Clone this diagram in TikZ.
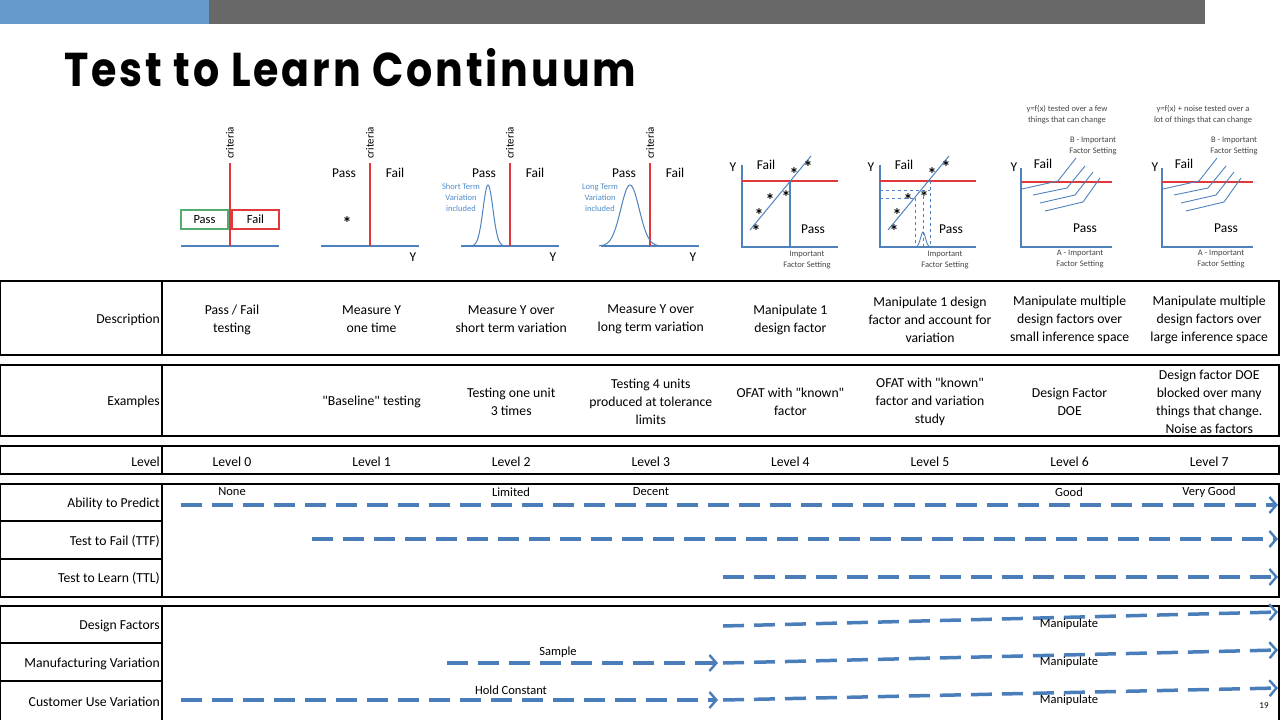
\documentclass[tikz,border=0pt]{standalone}
\usepackage{graphicx}
\usepackage{fontspec}
\setmainfont{Carlito}[Ligatures=TeXOff]
\newfontfamily\titlefont{Poppins}[LetterSpace=7]
\usetikzlibrary{arrows.meta}
\definecolor{barblue}{RGB}{102,153,204}
\definecolor{bargray}{RGB}{104,104,104}
\definecolor{axisblue}{RGB}{79,129,189}
\definecolor{critred}{RGB}{226,56,60}
\definecolor{passgreen}{RGB}{84,172,112}
\definecolor{noteblue}{RGB}{79,140,200}
\definecolor{flowblue}{RGB}{74,126,187}
\definecolor{notegray}{RGB}{70,70,70}
\tikzset{
  axisline/.style={draw=axisblue,line width=1.2pt},
  critline/.style={draw=critred,line width=1.4pt},
  frame/.style={draw=black,line width=1.2pt},
  cell/.style={align=center,inner sep=0pt,yshift=-1.5pt,font=\fontsize{13.7}{18}\selectfont},
  rowlabel/.style={anchor=east,inner sep=0pt,yshift=-1.5pt,font=\fontsize{13.7}{18}\selectfont},
  tag/.style={inner sep=0pt,font=\fontsize{12.5}{14}\selectfont},
  big/.style={inner sep=0pt,font=\fontsize{13.5}{15}\selectfont},
  critlabel/.style={rotate=90,anchor=west,inner sep=0pt,font=\fontsize{11}{12}\selectfont},
  note/.style={align=center,inner sep=0pt,text=noteblue,font=\fontsize{8.5}{11}\selectfont},
  tiny/.style={align=center,inner sep=0pt,text=notegray,font=\fontsize{8.5}{11}\selectfont},
  star/.style={inner sep=0pt,font=\fontsize{18}{18}\selectfont\bfseries},
  flow/.style={draw=flowblue,line width=3.5pt,dash pattern=on 21pt off 10pt,
    -{Straight Barb[length=7pt,width=16pt,line width=2.4pt]}},
}
\begin{document}
\begin{tikzpicture}[x=1pt,y=-1pt]
\useasboundingbox (0,0) rectangle (1280,720);
\fill[barblue] (0,0) rectangle (209,24);
\fill[bargray] (209,0) rectangle (1205,24);
\node[anchor=base west,inner sep=0pt] (title) at (64,86)
  {\resizebox{572pt}{38pt}{\titlefont\bfseries Test to Learn Continuum}};

% pass/fail criteria panels
\foreach \o/\n in {0/0,140/1,280/2,420/3}{
  \draw[axisline] (181+\o,246) -- (279+\o,246);
  \draw[critline] (230+\o,163) -- (230+\o,246);
  \node[critlabel] (crit\n) at (230+\o,159) {criteria};
}
\node[draw=passgreen,line width=1.2pt,minimum width=47pt,minimum height=19pt,tag] (pbox) at (204.5,219.5) {Pass};
\node[draw=critred,line width=1.2pt,minimum width=47pt,minimum height=19pt,tag] (fbox) at (255.5,219.5) {Fail};
\foreach \o/\n in {140/1,280/2,420/3}{
  \node[big] (pass\n) at (204+\o,173) {Pass};
  \node[big] (fail\n) at (255+\o,173) {Fail};
  \node[big] (y\n) at (273+\o,257) {Y};
}
\node[star] (one) at (347,223) {*};
\draw[axisblue,line width=1pt,domain=-18:18,samples=50] plot ({488+\x},{246-61*exp(-(\x/7)*(\x/7))});
\draw[axisblue,line width=1pt,domain=-31:31,samples=60] plot ({630+\x},{246-61*exp(-(\x/13)*(\x/13))});
\node[note] (shortv) at (461,198) {Short Term\\Variation\\included};
\node[note] (longv) at (600,198) {Long Term\\Variation\\included};

% one factor panels
\foreach \o/\n in {0/4,138/5}{
  \draw[axisline] (742+\o,165) -- (742+\o,247) -- (838+\o,247);
  \draw[critline] (742+\o,181) -- (838+\o,181);
  \draw[axisblue,line width=1pt] (750+\o,230) -- (811+\o,156);
  \foreach \sx/\sy [count=\k] in {756/228,759/212,770/197,786/194,794/171,808/164}
    \node[star] (s\n\k) at (\sx+\o,\sy+3) {*};
  \node[big] (y\n) at (733+\o,167) {Y};
  \node[big] (fail\n) at (766+\o,165) {Fail};
  \node[big] (pass\n) at (813+\o,229) {Pass};
  \node[tiny] (imp\n) at (807+\o,260) {Important\\Factor Setting};
}
\draw[axisline] (790,181) -- (790,247);
\draw[axisblue,line width=0.9pt,dashed] (880,190) -- (930,190) (880,198) -- (915,198)
  (915,198) -- (915,247) (923,190) -- (923,247) (930,181) -- (930,247);
\draw[axisblue,line width=0.9pt] (916,247) .. controls (920,246) and (921,232) .. (923,232)
  .. controls (925,232) and (926,246) .. (930,247);

% many factor panels
\foreach \o/\n in {0/6,141/7}{
  \draw[axisline] (1021+\o,168) -- (1021+\o,247) -- (1112+\o,247);
  \draw[critline] (1021+\o,182) -- (1112+\o,182);
  \draw[axisblue,line width=0.9pt] (1022+\o,189) -- (1058+\o,181) -- (1076+\o,158)
    (1033+\o,195) -- (1067+\o,188) -- (1085+\o,166)
    (1040+\o,203) -- (1075+\o,195) -- (1093+\o,172)
    (1045+\o,211) -- (1083+\o,202) -- (1100+\o,178);
  \node[big] (y\n) at (1014+\o,167) {Y};
  \node[big] (fail\n) at (1043+\o,164) {Fail};
  \node[big] (pass\n) at (1085+\o,228) {Pass};
  \node[tiny] (bimp\n) at (1093+\o,146) {B - Important\\Factor Setting};
  \node[tiny] (aimp\n) at (1080+\o,259) {A - Important\\Factor Setting};
}
\node[tiny] (few) at (1067,115) {y=f(x) tested over a few\\things that can change};
\node[tiny] (lot) at (1203,115) {y=f(x) + noise tested over a\\lot of things that can change};

% table
\draw[frame] (0,281) rectangle (1279,355) (162,281) -- (162,355);
\draw[frame] (0,365) rectangle (1279,436) (162,365) -- (162,436);
\draw[frame] (0,446) rectangle (1279,474) (162,446) -- (162,474);
\draw[frame] (0,484) rectangle (1279,597) (162,484) -- (162,597) (0,521) -- (162,521) (0,559) -- (162,559);
\draw[frame] (0,725) -- (0,606) -- (1279,606) -- (1279,725) (162,606) -- (162,725) (0,643) -- (162,643) (0,681) -- (162,681);

\node[rowlabel] (ldesc) at (160,318) {Description};
\node[rowlabel] (lex) at (160,400) {Examples};
\node[rowlabel] (llvl) at (160,460) {Level};
\node[rowlabel] (lpred) at (160,502) {Ability to Predict};
\node[rowlabel] (lttf) at (160,540) {Test to Fail (TTF)};
\node[rowlabel] (lttl) at (160,577) {Test to Learn (TTL)};
\node[rowlabel] (ldf) at (160,624) {Design Factors};
\node[rowlabel] (lmv) at (160,662) {Manufacturing Variation};
\node[rowlabel] (lcu) at (160,700) {Customer Use Variation};

\foreach \t [count=\i from 0] in {{Pass / Fail\\testing},{Measure Y\\one time},
    {Measure Y over\\short term variation},{Measure Y over\\long term variation},
    {Manipulate 1\\design factor},{Manipulate 1 design\\factor and account for\\variation},
    {Manipulate multiple\\design factors over\\small inference space},
    {Manipulate multiple\\design factors over\\large inference space}}
  \node[cell] (desc\i) at (232+139.6*\i,318) {\t};
\foreach \t [count=\i from 1] in {{"Baseline" testing},{Testing one unit\\3 times},
    {Testing 4 units\\produced at tolerance\\limits},{OFAT with "known"\\factor},
    {OFAT with "known"\\factor and variation\\study},{Design Factor\\DOE},
    {Design factor DOE\\blocked over many\\things that change.\\Noise as factors}}
  \node[cell] (ex\i) at (232+139.6*\i,400) {\t};
\foreach \i in {0,...,7}
  \node[cell] (lvl\i) at (232+139.6*\i,460) {Level \i};

% arrows
\coordinate (ap0) at (181,505); \coordinate (ap1) at (1278,505);
\coordinate (tf0) at (312,539); \coordinate (tf1) at (1278,539);
\coordinate (tl0) at (723,577); \coordinate (tl1) at (1278,577);
\coordinate (df0) at (723,626); \coordinate (df1) at (1278,612);
\coordinate (mv0) at (447,663); \coordinate (mv1) at (718,663);
\coordinate (mv2) at (723,663); \coordinate (mv3) at (1278,650);
\coordinate (cu0) at (181,700); \coordinate (cu1) at (718,700);
\coordinate (cu2) at (723,700); \coordinate (cu3) at (1278,688);
\draw[flow] (ap0) -- (ap1);
\draw[flow] (tf0) -- (tf1);
\draw[flow] (tl0) -- (tl1);
\draw[flow] (df0) -- (df1);
\draw[flow] (mv0) -- (mv1);
\draw[flow] (mv2) -- (mv3);
\draw[flow] (cu0) -- (cu1);
\draw[flow] (cu2) -- (cu3);

\foreach \x/\t [count=\k] in {232/None,511/Limited,651/Decent,1069/Good,1209/Very Good}
  \node[tag] (pred\k) at (\x,492) {\t};
\node[tag] (sample) at (558,652) {Sample};
\node[tag] (hold) at (511,690) {Hold Constant};
\foreach \y [count=\k] in {624,662,700}
  \node[tag] (manip\k) at (1069,\y) {Manipulate};
\node[inner sep=0pt,font=\fontsize{9}{10}\selectfont] (page) at (1264,706) {19};
\end{tikzpicture}
\end{document}
